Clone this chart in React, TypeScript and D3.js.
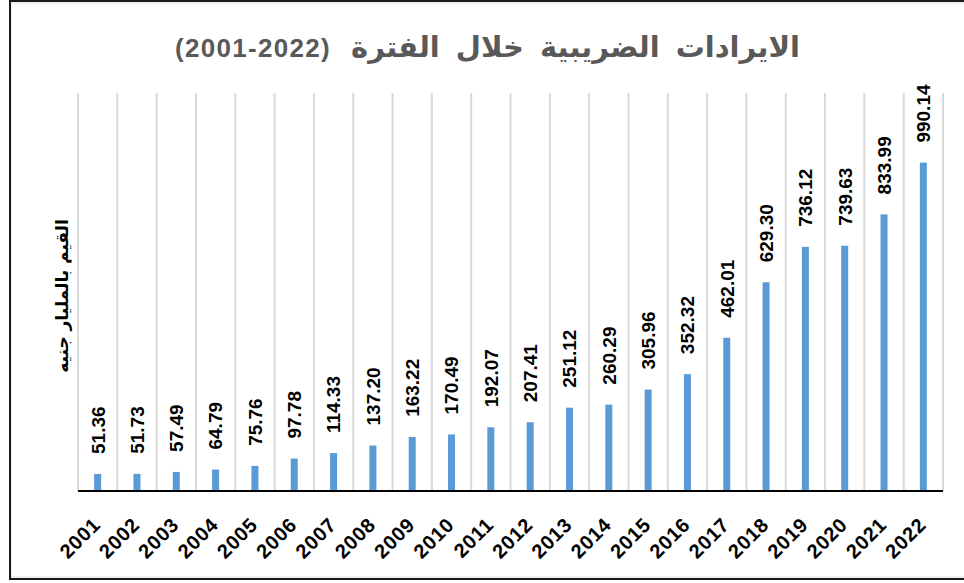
import React from "react";
import * as d3 from "d3";

const years: string[] = [
  "2001", "2002", "2003", "2004", "2005", "2006", "2007", "2008", "2009", "2010", "2011",
  "2012", "2013", "2014", "2015", "2016", "2017", "2018", "2019", "2020", "2021", "2022",
];
const revenues: number[] = [
  51.36, 51.73, 57.49, 64.79, 75.76, 97.78, 114.33, 137.2, 163.22, 170.49, 192.07,
  207.41, 251.12, 260.29, 305.96, 352.32, 462.01, 629.3, 736.12, 739.63, 833.99, 990.14,
];
const titleText = "الايرادات الضريبية خلال الفترة";
const titlePeriod = "(2001-2022)";
const yAxisTitle = "القيم بالمليار جنيه";
const yMax = 1200;

const W = 964;
const H = 583;
const plot = { left: 78, right: 943, top: 93, bottom: 491 };
const FONT = "'Liberation Sans', Arial, 'DejaVu Sans', sans-serif";

export default function App() {
  const x = d3
    .scaleBand<string>()
    .domain(years)
    .range([plot.left, plot.right])
    .paddingInner(0)
    .paddingOuter(0);
  const y = d3.scaleLinear().domain([0, yMax]).range([plot.bottom, plot.top]);
  const barW = 7;
  const bounds = d3.range(years.length + 1).map((i) => plot.left + i * x.step());

  return (
    <svg
      width={W}
      height={H}
      style={{ position: "absolute", left: 0, top: 0, background: "#fff" }}
      fontFamily={FONT}
    >
      <rect x={0} y={0} width={W} height={H} fill="#fff" />
      {/* outer frame */}
      <rect x={11} y={3} width={W + 10} height={574} fill="none" stroke="#e3e3e3" strokeWidth={1} />
      <line x1={10} y1={0} x2={10} y2={580} stroke="#1a1a1a" strokeWidth={2} />
      <line x1={9} y1={1} x2={W} y2={1} stroke="#1a1a1a" strokeWidth={2} />
      <line x1={9} y1={579} x2={W} y2={579} stroke="#1a1a1a" strokeWidth={2} />

      {/* title: Arabic part right-aligned, period on the left */}
      <text
        x={800}
        y={57}
        textAnchor="start"
        direction="rtl"
        fontSize={29}
        fontWeight="bold"
        fill="#595959"
        letterSpacing={1.8}
        wordSpacing={8}
      >
        {titleText}
      </text>
      <text
        x={175}
        y={57}
        textAnchor="start"
        fontSize={26}
        fontWeight="bold"
        fill="#595959"
        letterSpacing={1.3}
      >
        {titlePeriod}
      </text>

      {/* y axis title */}
      <text
        transform={`translate(62, 296) rotate(-90)`}
        textAnchor="middle"
        direction="rtl"
        dy="0.35em"
        fontSize={17}
        fontWeight="bold"
        fill="#000"
        fontFamily="'DejaVu Sans', sans-serif"
      >
        {yAxisTitle}
      </text>

      {/* vertical gridlines */}
      {bounds.map((bx, i) => (
        <line key={"g" + i} x1={bx} x2={bx} y1={plot.top} y2={plot.bottom} stroke="#d9d9d9" strokeWidth={2} />
      ))}

      {/* bars */}
      {years.map((yr, i) => {
        const cx = (x(yr) as number) + x.bandwidth() / 2;
        return (
          <rect
            key={"b" + yr}
            x={cx - barW / 2}
            y={y(revenues[i])}
            width={barW}
            height={plot.bottom - y(revenues[i])}
            fill="#5B9BD5"
          />
        );
      })}

      {/* data labels */}
      {years.map((yr, i) => {
        const cx = (x(yr) as number) + x.bandwidth() / 2;
        return (
          <text
            key={"l" + yr}
            transform={`translate(${cx}, ${y(revenues[i]) - 20}) rotate(-90)`}
            dy="0.36em"
            textAnchor="start"
            fontSize={19}
            fontWeight="bold"
            fill="#000"
          >
            {revenues[i].toFixed(2)}
          </text>
        );
      })}

      {/* x axis line */}
      <line x1={plot.left} x2={plot.right} y1={plot.bottom} y2={plot.bottom} stroke="#000" strokeWidth={2} />

      {/* x tick labels */}
      {years.map((yr) => {
        const cx = (x(yr) as number) + x.bandwidth() / 2;
        return (
          <text
            key={"t" + yr}
            transform={`translate(${cx + 4}, 526) rotate(-45)`}
            textAnchor="end"
            fontSize={20}
            fontWeight="bold"
            fill="#000"
            letterSpacing={0.8}
          >
            {yr}
          </text>
        );
      })}
    </svg>
  );
}
